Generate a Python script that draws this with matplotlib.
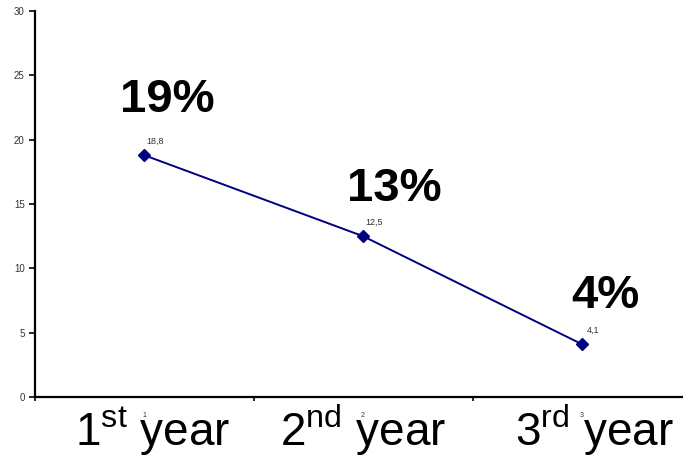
import matplotlib
matplotlib.use("Agg")
import matplotlib.pyplot as plt

plt.rcParams['font.family'] = ['Liberation Sans', 'DejaVu Sans']
plt.rcParams['mathtext.fontset'] = 'custom'
plt.rcParams['mathtext.rm'] = 'Liberation Sans'
plt.rcParams['mathtext.it'] = 'Liberation Sans:italic'
plt.rcParams['mathtext.bf'] = 'Liberation Sans:bold'

# data
categories = ["1", "2", "3"]
values = [18.8, 12.5, 4.1]
value_labels = ["18,8", "12,5", "4,1"]
pct_labels = ["19%", "13%", "4%"]
year_labels = [r"1$^{\mathrm{st}}$ year", r"2$^{\mathrm{nd}}$ year", r"3$^{\mathrm{rd}}$ year"]

W, H = 683, 458
fig = plt.figure(figsize=(W / 100, H / 100), dpi=100)
left, right, bottom, top = 34.5, 691.5, 397, 11
ax = fig.add_axes([left / W, (H - bottom) / H, (right - left) / W, (bottom - top) / H])

x = list(range(len(categories)))
ax.plot(x, values, color="#000080", lw=1.4, marker="D", ms=6.5,
        markerfacecolor="#000080", markeredgecolor="#000080", zorder=3)

ax.set_xlim(-0.5, len(categories) - 0.5)
ax.set_ylim(0, 30)
ax.set_yticks([0, 5, 10, 15, 20, 25, 30])
ax.set_yticklabels(["0", "5", "10", "15", "20", "25", "30"])
ax.tick_params(axis="y", direction="out", length=4, width=1.2, labelsize=7,
               labelcolor="#333333", pad=3)

ax.set_xticks(x)
ax.set_xticklabels(categories)
ax.set_xticks([i - 0.5 for i in range(len(categories) + 1)], minor=True)
ax.tick_params(axis="x", which="major", length=0, labelsize=5, labelcolor="#333333", pad=11)
ax.tick_params(axis="x", which="minor", direction="out", length=3, width=1.2)

for s in ["top", "right"]:
    ax.spines[s].set_visible(False)
for s in ["left", "bottom"]:
    ax.spines[s].set_linewidth(1.6)
    ax.spines[s].set_color("black")

# small value labels
for xi, v, lab in zip(x, values, value_labels):
    ax.annotate(lab, xy=(xi, v), xytext=(11, 14), textcoords="offset pixels",
                ha="center", va="center", fontsize=6.5, color="#333333")

# big percentage labels
pct_offsets = [(23, 55), (31, 47), (23, 48)]
for xi, v, lab, (dx, dy) in zip(x, values, pct_labels, pct_offsets):
    ax.annotate(lab, xy=(xi, v), xytext=(dx, dy), textcoords="offset pixels",
                ha="center", va="center", fontsize=34, fontweight="bold", color="black")

# big year labels under the axis
year_dx = [9, 0, 12]
for xi, lab, dx in zip(x, year_labels, year_dx):
    ax.annotate(lab, xy=(xi, 0), xycoords=("data", "axes fraction"),
                xytext=(dx, -49), textcoords="offset pixels",
                ha="center", va="baseline", fontsize=33, color="black",
                annotation_clip=False)

fig.savefig("out.png", dpi=100)
